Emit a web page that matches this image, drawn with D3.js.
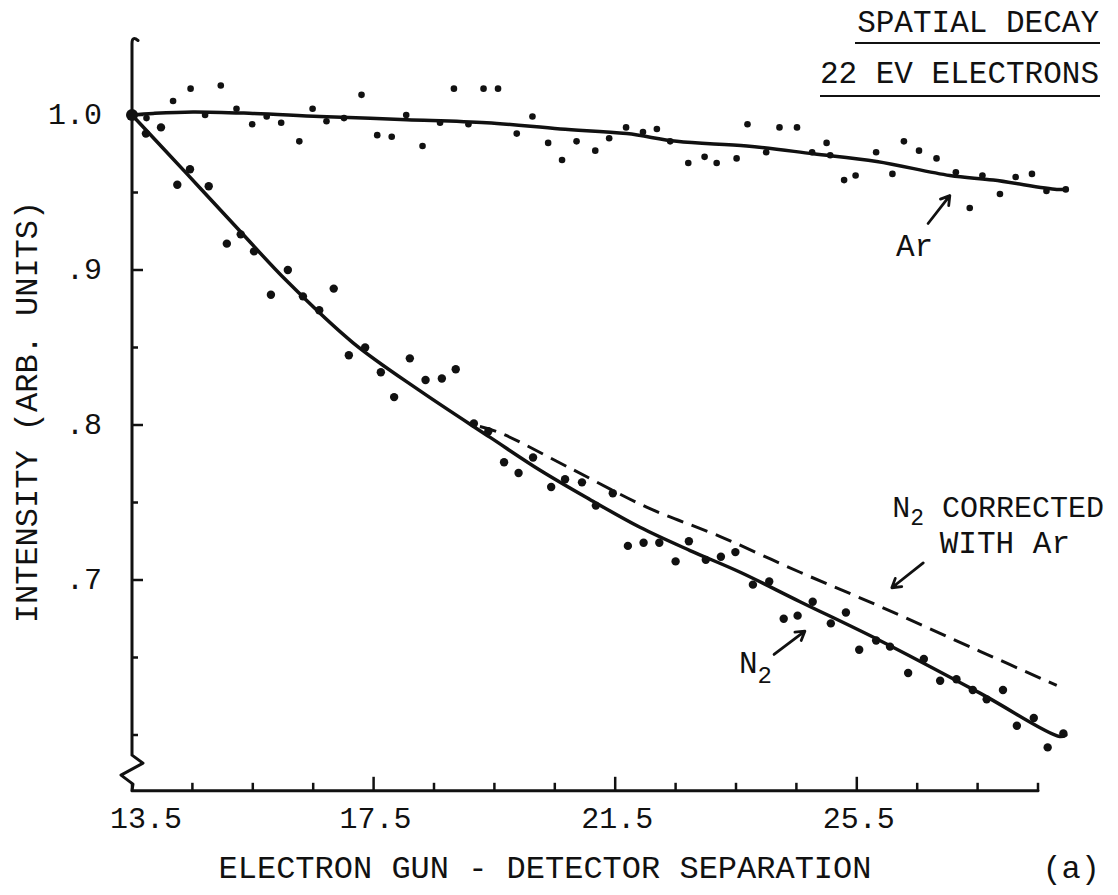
<!DOCTYPE html>
<html>
<head>
<meta charset="utf-8">
<script src="https://cdn.jsdelivr.net/npm/d3@7"></script>
<style>
  html, body { margin: 0; padding: 0; background: #fff; }
  svg { display: block; }
  text { font-family: "Liberation Mono", "DejaVu Sans Mono", monospace; fill: #111; }
</style>
</head>
<body>
<svg id="chart" width="1118" height="895"></svg>
<script>
// Electron gun - detector separation (x) and normalised intensity (y)
const arX = [13.5, 13.74, 14.18, 14.47, 14.71, 14.97, 15.23, 15.49, 15.73, 15.97, 16.27, 16.49, 16.72, 17.01,
  17.30, 17.56, 17.80, 18.04, 18.31, 18.60, 18.83, 19.07, 19.32, 19.56, 19.87, 20.13, 20.39, 20.62,
  20.86, 21.17, 21.40, 21.68, 21.96, 22.19, 22.41, 22.71, 22.98, 23.18, 23.51, 23.69, 24.00, 24.22,
  24.51, 24.76, 25.00, 25.06, 25.29, 25.48, 25.82, 26.09, 26.28, 26.53, 26.82, 27.14, 27.37, 27.58,
  27.87, 28.13, 28.40, 28.64, 28.96];
const arY = [1.000, 0.998, 1.009, 1.017, 1.000, 1.019, 1.004, 0.994, 0.999, 0.995, 0.983, 1.004, 0.996, 0.998,
  1.013, 0.987, 0.986, 1.000, 0.980, 0.995, 1.017, 0.994, 1.017, 1.017, 0.988, 0.999, 0.982, 0.971,
  0.983, 0.977, 0.985, 0.992, 0.989, 0.991, 0.983, 0.969, 0.973, 0.969, 0.972, 0.994, 0.976, 0.992,
  0.992, 0.976, 0.982, 0.974, 0.958, 0.961, 0.976, 0.962, 0.983, 0.977, 0.972, 0.963, 0.940, 0.961,
  0.949, 0.960, 0.962, 0.951, 0.952];

const n2X = [13.5, 13.73, 13.98, 14.25, 14.46, 14.77, 15.07, 15.30, 15.52, 15.80, 16.08, 16.33, 16.60, 16.84,
  17.09, 17.36, 17.62, 17.84, 18.10, 18.36, 18.63, 18.86, 19.16, 19.40, 19.66, 19.90, 20.14, 20.44,
  20.67, 20.95, 21.18, 21.46, 21.71, 21.97, 22.23, 22.50, 22.72, 23.00, 23.25, 23.49, 23.78, 24.05,
  24.29, 24.52, 24.77, 25.07, 25.32, 25.54, 25.82, 26.05, 26.35, 26.61, 26.88, 27.15, 27.42, 27.65,
  27.92, 28.15, 28.43, 28.66, 28.92];
const n2Y = [1.000, 0.988, 0.992, 0.955, 0.965, 0.954, 0.917, 0.923, 0.912, 0.884, 0.900, 0.883, 0.874, 0.888,
  0.845, 0.850, 0.834, 0.818, 0.843, 0.829, 0.830, 0.836, 0.801, 0.796, 0.776, 0.769, 0.779, 0.760,
  0.765, 0.763, 0.748, 0.756, 0.722, 0.724, 0.724, 0.712, 0.725, 0.713, 0.715, 0.718, 0.697, 0.699,
  0.675, 0.677, 0.686, 0.672, 0.679, 0.655, 0.661, 0.657, 0.640, 0.649, 0.635, 0.636, 0.629, 0.623,
  0.629, 0.606, 0.611, 0.592, 0.601];

// Smoothed fits
const arFitX = [13.5, 13.85, 14.51, 15.50, 16.61, 18.05, 19.37, 20.59, 21.69, 22.52, 23.68, 24.78, 25.83, 27.04, 27.76, 28.81, 28.96];
const arFitY = [1.000, 1.001, 1.002, 1.001, 0.999, 0.997, 0.995, 0.991, 0.988, 0.983, 0.980, 0.975, 0.970, 0.961, 0.958, 0.952, 0.952];

const n2FitX = [13.5, 14.41, 15.29, 16.06, 17.16, 18.27, 19.43, 20.25, 21.08, 21.91, 22.74, 23.57, 24.56, 25.88, 27.54, 28.86, 28.96];
const n2FitY = [1.000, 0.962, 0.925, 0.893, 0.853, 0.822, 0.792, 0.771, 0.752, 0.734, 0.719, 0.705, 0.686, 0.661, 0.627, 0.599, 0.600];

// N2 corrected with Ar (dashed)
const corrX = [19.26, 19.59, 20.81, 22.02, 23.24, 24.56, 25.88, 27.54, 28.81];
const corrY = [0.799, 0.795, 0.771, 0.747, 0.728, 0.705, 0.683, 0.654, 0.632];

// Axis ticks
const xTickValues = [13.5, 14.5, 15.5, 16.5, 17.5, 18.5, 19.5, 20.5, 21.5, 22.5, 23.5, 24.5, 25.5, 26.5, 27.5, 28.5];
const xLabelValues = [13.5, 17.5, 21.5, 25.5];
const xLabelText = ["13.5", "17.5", "21.5", "25.5"];
const yTickValues = [1.0, 0.95, 0.9, 0.85, 0.8, 0.75, 0.7, 0.65, 0.6];
const yLabelValues = [1.0, 0.9, 0.8, 0.7];
const yLabelText = ["1.0", ".9", ".8", ".7"];

const svg = d3.select("#chart");
const ink = "#111";

const x = d3.scaleLinear().domain([13.5, 28.5]).range([132, 1038]);
const y = d3.scaleLinear().domain([0.7, 1.0]).range([580, 115]);

const yTop = 1.05, yBreak = 0.587, yFloor = 0.564;
const x0 = x(13.5), xEnd = x(28.5), yb = y(yFloor);

// axis lines with the broken-axis mark at the bottom of the y axis
svg.append("path")
  .attr("d", `M${x0 + 6},${y(yTop) + 3} Q${x0},${y(yTop) - 2} ${x0},${y(yTop) + 6}
              L${x0},${y(yBreak)} L${x0 + 11},${y(yBreak) + 8} L${x0 - 11},${y(yBreak) + 20}
              L${x0 + 1},${y(yBreak) + 29} L${x0},${yb} L${xEnd},${yb}`)
  .attr("fill", "none").attr("stroke", ink).attr("stroke-width", 3)
  .attr("stroke-linejoin", "round").attr("stroke-linecap", "round");

// x ticks (inward)
svg.append("g").selectAll("line").data(xTickValues).join("line")
  .attr("x1", d => x(d)).attr("x2", d => x(d))
  .attr("y1", yb).attr("y2", d => yb - (xLabelValues.includes(d) && d !== 13.5 ? 14 : 8))
  .attr("stroke", ink).attr("stroke-width", 2.5);

svg.append("g").selectAll("text").data(xLabelValues).join("text")
  .attr("x", (d, i) => x(d) + (i === 0 ? 14 : 2))
  .attr("y", yb + 37)
  .attr("text-anchor", "middle")
  .attr("font-size", 30)
  .text((d, i) => xLabelText[i]);

// y ticks (inward)
svg.append("g").selectAll("line").data(yTickValues).join("line")
  .attr("x1", x0).attr("x2", d => x0 + (yLabelValues.includes(d) ? 11 : 6))
  .attr("y1", d => y(d)).attr("y2", d => y(d))
  .attr("stroke", ink).attr("stroke-width", 2.5);

svg.append("g").selectAll("text").data(yLabelValues).join("text")
  .attr("x", x0 - 30)
  .attr("y", d => y(d) + 9)
  .attr("text-anchor", "end")
  .attr("font-size", 30)
  .text((d, i) => yLabelText[i]);

// fitted curves
const line = d3.line().x(d => x(d[0])).y(d => y(d[1])).curve(d3.curveCatmullRom.alpha(0.5));
const zip = (a, b) => a.map((v, i) => [v, b[i]]);

svg.append("path").attr("d", line(zip(arFitX, arFitY)))
  .attr("fill", "none").attr("stroke", ink).attr("stroke-width", 3.5).attr("stroke-linecap", "round");
svg.append("path").attr("d", line(zip(n2FitX, n2FitY)))
  .attr("fill", "none").attr("stroke", ink).attr("stroke-width", 3.5).attr("stroke-linecap", "round");
svg.append("path").attr("d", line(zip(corrX, corrY)))
  .attr("fill", "none").attr("stroke", ink).attr("stroke-width", 3)
  .attr("stroke-dasharray", "17 9");

// data points
svg.append("g").selectAll("circle").data(zip(arX, arY)).join("circle")
  .attr("cx", d => x(d[0])).attr("cy", d => y(d[1])).attr("r", 3.3).attr("fill", ink);
svg.append("g").selectAll("circle").data(zip(n2X, n2Y)).join("circle")
  .attr("cx", d => x(d[0])).attr("cy", d => y(d[1])).attr("r", 4.2).attr("fill", ink);
svg.append("circle").attr("cx", x(13.5)).attr("cy", y(1.0)).attr("r", 6).attr("fill", ink);

// annotation arrows (tail -> head, in data units)
const arrows = [
  { from: [26.68, 0.930], to: [27.04, 0.948] },
  { from: [24.13, 0.652], to: [24.64, 0.667] },
  { from: [26.60, 0.711], to: [26.08, 0.695] }
];
arrows.forEach(a => {
  const x1 = x(a.from[0]), y1 = y(a.from[1]), x2 = x(a.to[0]), y2 = y(a.to[1]);
  const ang = Math.atan2(y2 - y1, x2 - x1);
  const h = 10, spread = 0.55;
  svg.append("path")
    .attr("d", `M${x1},${y1} L${x2},${y2}
                M${x2 - h * Math.cos(ang - spread)},${y2 - h * Math.sin(ang - spread)} L${x2},${y2}
                L${x2 - h * Math.cos(ang + spread)},${y2 - h * Math.sin(ang + spread)}`)
    .attr("fill", "none").attr("stroke", ink).attr("stroke-width", 2.8)
    .attr("stroke-linecap", "round").attr("stroke-linejoin", "round");
});

// labels
svg.append("text").attr("x", 896).attr("y", 256).attr("font-size", 31).text("Ar");

const n2Label = svg.append("text").attr("x", 739).attr("y", 673).attr("font-size", 31);
n2Label.append("tspan").text("N");
n2Label.append("tspan").attr("dy", 10).attr("font-size", 24).text("2");

const corrLabel = svg.append("text").attr("x", 1104).attr("y", 517).attr("text-anchor", "end").attr("font-size", 30);
corrLabel.append("tspan").text("N");
corrLabel.append("tspan").attr("dy", 8).attr("font-size", 23).text("2");
corrLabel.append("tspan").attr("dy", -8).text(" CORRECTED");
svg.append("text").attr("x", 1070).attr("y", 553).attr("text-anchor", "end").attr("font-size", 31).text("WITH Ar");

// title block, underlined
svg.append("text").attr("x", 1099).attr("y", 32).attr("text-anchor", "end").attr("font-size", 31).text("SPATIAL DECAY");
svg.append("line").attr("x1", 855).attr("x2", 1100).attr("y1", 43).attr("y2", 43).attr("stroke", ink).attr("stroke-width", 2);
svg.append("text").attr("x", 1099).attr("y", 83).attr("text-anchor", "end").attr("font-size", 31).text("22 EV ELECTRONS");
svg.append("line").attr("x1", 820).attr("x2", 1100).attr("y1", 96).attr("y2", 96).attr("stroke", ink).attr("stroke-width", 2);

// axis titles
svg.append("text").attr("x", 545).attr("y", 878).attr("text-anchor", "middle").attr("font-size", 32)
  .text("ELECTRON GUN - DETECTOR SEPARATION");
svg.append("text").attr("x", 1100).attr("y", 878).attr("text-anchor", "end").attr("font-size", 32).text("(a)");
svg.append("text").attr("transform", "translate(37,412) rotate(-90)").attr("text-anchor", "middle")
  .attr("font-size", 32).text("INTENSITY (ARB. UNITS)");
</script>
</body>
</html>
